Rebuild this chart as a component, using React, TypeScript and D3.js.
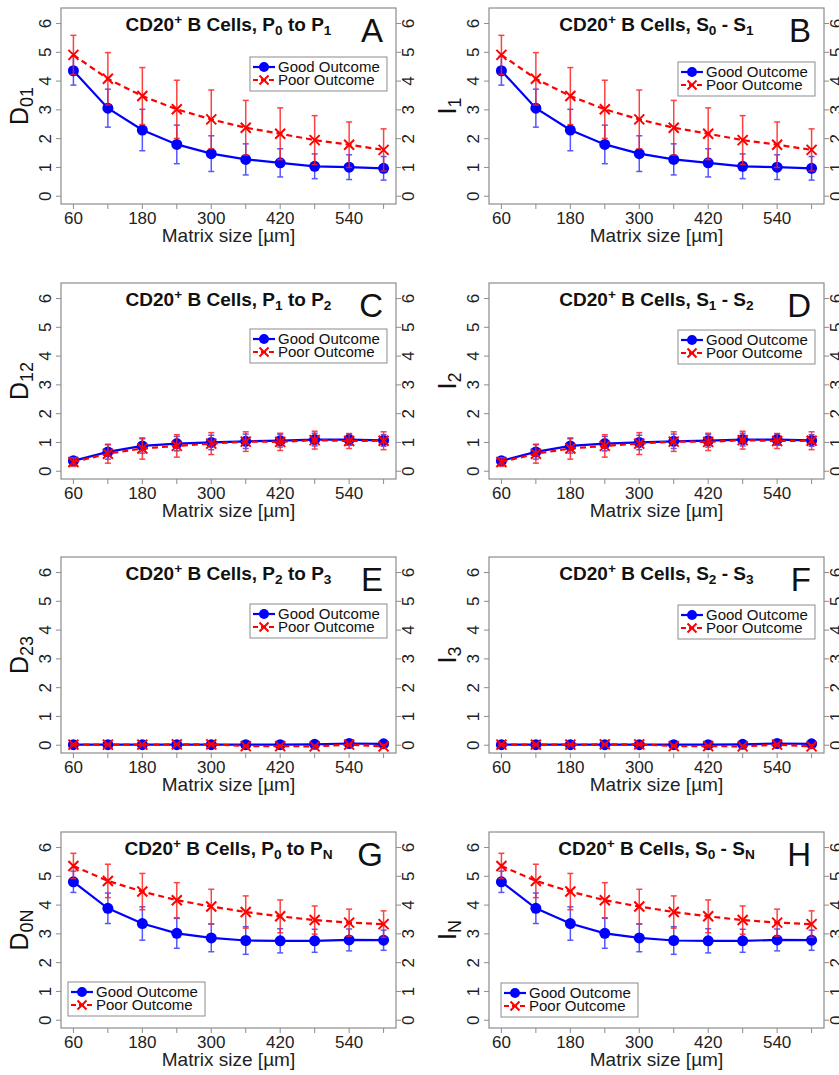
import React from "react";
import * as d3 from "d3";

// ---------------- data ----------------
const matrixSizes = [60, 120, 180, 240, 300, 360, 420, 480, 540, 600];
const xTickLabels = [60, 180, 300, 420, 540];
const yTickValues = [0, 1, 2, 3, 4, 5, 6];

// P0 to P1 / S0 - S1
const firstGoodMean = [4.36, 3.06, 2.3, 1.8, 1.48, 1.28, 1.16, 1.04, 1.01, 0.97];
const firstGoodErr = [0.5, 0.66, 0.72, 0.67, 0.62, 0.54, 0.49, 0.43, 0.43, 0.41];
const firstPoorMean = [4.91, 4.08, 3.48, 3.02, 2.67, 2.38, 2.17, 1.95, 1.79, 1.61];
const firstPoorErr = [0.68, 0.91, 0.99, 1.01, 1.02, 0.95, 0.9, 0.85, 0.79, 0.73];

// P1 to P2 / S1 - S2
const secondGoodMean = [0.36, 0.67, 0.88, 0.96, 1.0, 1.04, 1.06, 1.1, 1.1, 1.07];
const secondGoodErr = [0.12, 0.25, 0.25, 0.25, 0.25, 0.25, 0.22, 0.22, 0.2, 0.2];
const secondPoorMean = [0.32, 0.61, 0.79, 0.88, 0.96, 1.03, 1.02, 1.08, 1.05, 1.06];
const secondPoorErr = [0.15, 0.33, 0.37, 0.39, 0.38, 0.34, 0.3, 0.31, 0.26, 0.31];

// P2 to P3 / S2 - S3
const thirdGoodMean = [0.02, 0.02, 0.02, 0.02, 0.02, 0.02, 0.02, 0.03, 0.06, 0.05];
const thirdGoodErr = [0.02, 0.02, 0.02, 0.02, 0.02, 0.02, 0.02, 0.03, 0.04, 0.04];
const thirdPoorMean = [0.02, 0.02, 0.02, 0.03, 0.03, -0.03, -0.03, -0.04, 0.02, -0.04];
const thirdPoorErr = [0.02, 0.02, 0.02, 0.02, 0.03, 0.03, 0.03, 0.04, 0.03, 0.05];

// P0 to PN / S0 - SN
const totalGoodMean = [4.81, 3.89, 3.36, 3.02, 2.86, 2.77, 2.76, 2.76, 2.79, 2.78];
const totalGoodErr = [0.37, 0.53, 0.58, 0.52, 0.48, 0.48, 0.42, 0.4, 0.38, 0.35];
const totalPoorMean = [5.36, 4.84, 4.47, 4.17, 3.95, 3.76, 3.61, 3.48, 3.39, 3.34];
const totalPoorErr = [0.44, 0.58, 0.63, 0.61, 0.6, 0.56, 0.57, 0.49, 0.47, 0.46];

const seriesNames = ["Good Outcome", "Poor Outcome"];

// ---------------- layout ----------------
type Seg = [string, "n" | "sup" | "sub"];

const FONT = "'Liberation Sans', Arial, Helvetica, sans-serif";
const BOX_W = 335;
const BOX_H = 196;
const colX = [61, 489];
const rowY = [8, 283, 557, 832];
const BLUE = "#0000ff";
const RED = "#ff0000";

const titleP = (a: string, b: string): Seg[] => [
  ["CD20", "n"], ["+", "sup"], [" B Cells, P", "n"], [a, "sub"], [" to P", "n"], [b, "sub"],
];
const titleS = (a: string, b: string): Seg[] => [
  ["CD20", "n"], ["+", "sup"], [" B Cells, S", "n"], [a, "sub"], [" - S", "n"], [b, "sub"],
];

const panels = [
  { col: 0, row: 0, letter: "A", title: titleP("0", "1"), ylab: [["D", "n"], ["01", "sub"]] as Seg[], g: firstGoodMean, ge: firstGoodErr, p: firstPoorMean, pe: firstPoorErr, leg: { x: -146, y: 49, right: true } },
  { col: 1, row: 0, letter: "B", title: titleS("0", "1"), ylab: [["I", "n"], ["1", "sub"]] as Seg[], g: firstGoodMean, ge: firstGoodErr, p: firstPoorMean, pe: firstPoorErr, leg: { x: -146, y: 54, right: true } },
  { col: 0, row: 1, letter: "C", title: titleP("1", "2"), ylab: [["D", "n"], ["12", "sub"]] as Seg[], g: secondGoodMean, ge: secondGoodErr, p: secondPoorMean, pe: secondPoorErr, leg: { x: -146, y: 46, right: true } },
  { col: 1, row: 1, letter: "D", title: titleS("1", "2"), ylab: [["I", "n"], ["2", "sub"]] as Seg[], g: secondGoodMean, ge: secondGoodErr, p: secondPoorMean, pe: secondPoorErr, leg: { x: -146, y: 47, right: true } },
  { col: 0, row: 2, letter: "E", title: titleP("2", "3"), ylab: [["D", "n"], ["23", "sub"]] as Seg[], g: thirdGoodMean, ge: thirdGoodErr, p: thirdPoorMean, pe: thirdPoorErr, leg: { x: -146, y: 47, right: true } },
  { col: 1, row: 2, letter: "F", title: titleS("2", "3"), ylab: [["I", "n"], ["3", "sub"]] as Seg[], g: thirdGoodMean, ge: thirdGoodErr, p: thirdPoorMean, pe: thirdPoorErr, leg: { x: -146, y: 48, right: true } },
  { col: 0, row: 3, letter: "G", title: titleP("0", "N"), ylab: [["D", "n"], ["0N", "sub"]] as Seg[], g: totalGoodMean, ge: totalGoodErr, p: totalPoorMean, pe: totalPoorErr, leg: { x: 7, y: 150, right: false } },
  { col: 1, row: 3, letter: "H", title: titleS("0", "N"), ylab: [["I", "n"], ["N", "sub"]] as Seg[], g: totalGoodMean, ge: totalGoodErr, p: totalPoorMean, pe: totalPoorErr, leg: { x: 12, y: 151, right: false } },
];

function RichText({ segs, size, subShift, supShift }: { segs: Seg[]; size: number; subShift: number; supShift: number }) {
  let cur = 0;
  return (
    <>
      {segs.map(([t, k], i) => {
        const target = k === "sub" ? subShift : k === "sup" ? -supShift : 0;
        const dy = target - cur;
        cur = target;
        return (
          <tspan key={i} dy={dy} fontSize={k === "n" ? size : size * 0.72}>
            {t}
          </tspan>
        );
      })}
    </>
  );
}

function Cross({ x, y, r, color }: { x: number; y: number; r: number; color: string }) {
  return (
    <path d={`M${x - r},${y - r}L${x + r},${y + r}M${x - r},${y + r}L${x + r},${y - r}`} stroke={color} strokeWidth={2} fill="none" />
  );
}

function Panel({ cfg }: { cfg: (typeof panels)[number] }) {
  const x0 = colX[cfg.col];
  const y0 = rowY[cfg.row];
  const x = d3.scaleLinear().domain([38.4, 621.6]).range([x0, x0 + BOX_W]);
  const y = d3.scaleLinear().domain([-0.27, 6.54]).range([y0 + BOX_H, y0]);
  const line = d3
    .line<number>()
    .x((_, i) => x(matrixSizes[i]))
    .y((d) => y(d));
  const cap = 3;
  const cx = x0 + BOX_W / 2;
  const cy = y0 + BOX_H / 2;
  const lx = cfg.leg.right ? x0 + BOX_W + cfg.leg.x : x0 + cfg.leg.x;
  const ly = y0 + cfg.leg.y;
  const series = [
    { mean: cfg.g, err: cfg.ge, color: BLUE, errColor: "#3a3aff", dash: undefined as string | undefined, kind: "dot" },
    { mean: cfg.p, err: cfg.pe, color: RED, errColor: "#ff2020", dash: "6,4", kind: "cross" },
  ];
  return (
    <g>
      <rect x={x0} y={y0} width={BOX_W} height={BOX_H} fill="#fff" stroke="#8c8c8c" strokeWidth={1.2} />
      {matrixSizes.map((v) => (
        <line key={"xt" + v} x1={x(v)} x2={x(v)} y1={y0 + BOX_H} y2={y0 + BOX_H + 5} stroke="#8c8c8c" strokeWidth={1} />
      ))}
      {xTickLabels.map((v) => (
        <text key={"xl" + v} x={x(v)} y={y0 + BOX_H + 20} textAnchor="middle" fontSize={17} fontFamily={FONT} fill="#222">
          {v}
        </text>
      ))}
      <text x={cx} y={y0 + BOX_H + 38} textAnchor="middle" fontSize={19} fontFamily={FONT} fill="#222">
        Matrix size [µm]
      </text>
      {yTickValues.map((v) => (
        <g key={"yt" + v}>
          <line x1={x0 - 5} x2={x0} y1={y(v)} y2={y(v)} stroke="#8c8c8c" strokeWidth={1} />
          <line x1={x0 + BOX_W} x2={x0 + BOX_W + 5} y1={y(v)} y2={y(v)} stroke="#8c8c8c" strokeWidth={1} />
          <text transform={`translate(${x0 - 10},${y(v)}) rotate(-90)`} textAnchor="middle" fontSize={17} fontFamily={FONT} fill="#222">
            {v}
          </text>
          <text transform={`translate(${x0 + BOX_W + 18},${y(v)}) rotate(-90)`} textAnchor="middle" fontSize={17} fontFamily={FONT} fill="#222">
            {v}
          </text>
        </g>
      ))}
      <text transform={`translate(${x0 - 33},${cy}) rotate(-90)`} textAnchor="middle" fontSize={25} fontFamily={FONT} fill="#111">
        <RichText segs={cfg.ylab} size={25} subShift={5} supShift={8} />
      </text>
      <text x={cx} y={y0 + 23} textAnchor="middle" fontSize={19} fontWeight="bold" fontFamily={FONT} fill="#111">
        <RichText segs={cfg.title} size={19} subShift={4} supShift={7} />
      </text>
      <text x={x0 + BOX_W - 13} y={y0 + 34} textAnchor="end" fontSize={33} fontFamily={FONT} fill="#111">
        {cfg.letter}
      </text>
      {series.map((s, si) => (
        <g key={"s" + si}>
          {s.mean.map((m, i) => {
            const px = x(matrixSizes[i]);
            const lo = y(m - s.err[i]);
            const hi = y(m + s.err[i]);
            return (
              <g key={"e" + i} stroke={s.errColor} strokeWidth={1.5} opacity={0.85}>
                <line x1={px} x2={px} y1={lo} y2={hi} />
                <line x1={px - cap} x2={px + cap} y1={lo} y2={lo} />
                <line x1={px - cap} x2={px + cap} y1={hi} y2={hi} />
              </g>
            );
          })}
          <path d={line(s.mean) || ""} fill="none" stroke={s.color} strokeWidth={2.2} strokeDasharray={s.dash} />
          {s.mean.map((m, i) =>
            s.kind === "dot" ? (
              <circle key={"p" + i} cx={x(matrixSizes[i])} cy={y(m)} r={5.5} fill={s.color} />
            ) : (
              <Cross key={"p" + i} x={x(matrixSizes[i])} y={y(m)} r={5} color={s.color} />
            )
          )}
        </g>
      ))}
      <g>
        <rect x={lx} y={ly} width={137} height={34} fill="#fff" stroke="#8c8c8c" strokeWidth={1} />
        {seriesNames.map((name, i) => {
          const ry = ly + 10 + i * 13;
          return (
            <g key={name}>
              <line x1={lx + 3} x2={lx + 25} y1={ry} y2={ry} stroke={i === 0 ? BLUE : RED} strokeWidth={2.2} strokeDasharray={i === 0 ? undefined : "5,3"} />
              {i === 0 ? <circle cx={lx + 14} cy={ry} r={5} fill={BLUE} /> : <Cross x={lx + 14} y={ry} r={4.5} color={RED} />}
              <text x={lx + 28} y={ry + 5} fontSize={15} fontFamily={FONT} fill="#111">
                {name}
              </text>
            </g>
          );
        })}
      </g>
    </g>
  );
}

export default function App() {
  return (
    <svg width={839} height={1075} style={{ position: "absolute", left: 0, top: 0, background: "#fff" }}>
      <rect x={0} y={0} width={839} height={1075} fill="#fff" />
      {panels.map((p, i) => (
        <Panel key={i} cfg={p} />
      ))}
    </svg>
  );
}
